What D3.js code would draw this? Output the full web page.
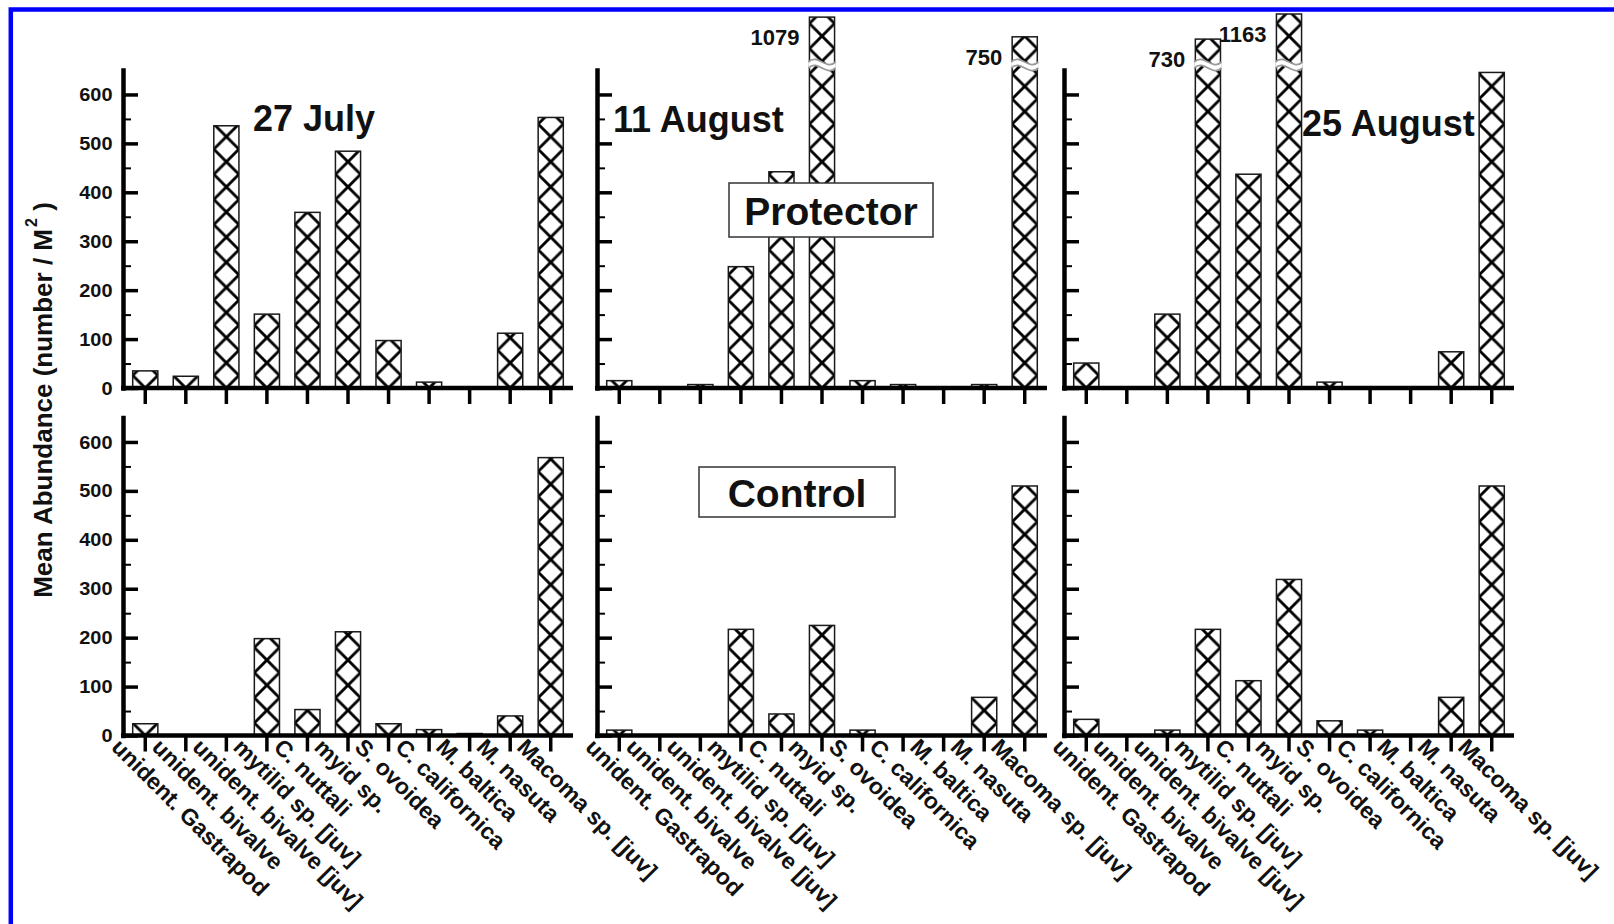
<!DOCTYPE html>
<html><head><meta charset="utf-8">
<script src="https://cdnjs.cloudflare.com/ajax/libs/d3/7.8.5/d3.min.js"></script>
<style>
html,body{margin:0;padding:0;background:#fff;overflow:hidden}
svg{display:block;font-family:"Liberation Sans",Arial,sans-serif}
</style></head><body>
<svg id="chart" width="1614" height="924"></svg>
<script>
// ---------- data ----------
const categories = ["unident. Gastrapod", "unident. bivalve", "unident. bivalve [juv]", "mytilid sp. [juv]",
  "C. nuttali", "myid sp.", "S. ovoidea", "C. californica", "M. baltica", "M. nasuta", "Macoma sp. [juv]"];
const dates = ["27 July", "11 August", "25 August"];
const treatments = ["Protector", "Control"];
const protector27Jul = [35, 24, 536, 151, 359, 484, 97, 12, 0, 112, 553];
const protector11Aug = [15, 0, 7, 248, 442, 1079, 15, 7, 0, 7, 750];
const protector25Aug = [51, 0, 151, 730, 437, 1163, 12, 0, 0, 74, 645];
const control27Jul = [24, 0, 0, 198, 53, 212, 24, 12, 4, 40, 568];
const control11Aug = [11, 0, 0, 217, 44, 225, 11, 0, 0, 78, 510];
const control25Aug = [33, 0, 11, 217, 112, 319, 30, 11, 0, 78, 510];
const yTickValues = [0, 100, 200, 300, 400, 500, 600];
const yMinorValues = [50, 150, 250, 350, 450, 550];
const yTitle = "Mean Abundance (number / M";

const series = [[protector27Jul, protector11Aug, protector25Aug], [control27Jul, control11Aug, control25Aug]];

// ---------- layout ----------
const W = 1614, H = 924;
const panelLeft = [123, 597, 1064], panelW = 450;
const rowBase = [388, 735.5], rowTopY = [70, 417.5];
const yMax = 650;
const FONT = '"Liberation Sans", Arial, sans-serif';

const svg = d3.select("#chart");
svg.append("rect").attr("width", W).attr("height", H).attr("fill", "#fff");
const defs = svg.append("defs");
const maxVal = d3.max(series.flat(2));

series.forEach((rowSeries, r) => {
  const y = d3.scaleLinear().domain([0, yMax]).range([rowBase[r], rowTopY[r]]);
  const yBreak = d3.scalePow().exponent(0.32).domain([0, maxVal - yMax]).range([rowTopY[r], rowTopY[r] - 56]);
  const barTop = v => v <= yMax ? y(v) : yBreak(v - yMax);

  rowSeries.forEach((vals, p) => {
    const px = panelLeft[p];
    const x = d3.scaleBand().domain(categories).range([px + 2, px + panelW - 2]).paddingInner(0.38).paddingOuter(0.19);
    const bw = x.bandwidth();
    const g = svg.append("g");

    // hatch patterns, one per bar, anchored to bar left / baseline
    categories.forEach((c, i) => {
      const pat = defs.append("pattern").attr("id", `h${r}${p}${i}`)
        .attr("patternUnits", "userSpaceOnUse")
        .attr("x", x(c)).attr("y", rowBase[r]).attr("width", bw).attr("height", bw);
      pat.append("path")
        .attr("d", `M${bw/2},0L0,${bw/2}L${bw/2},${bw}L${bw},${bw/2}Z`)
        .attr("fill", "none").attr("stroke", "#000").attr("stroke-width", 2.9);
    });

    // bars
    g.selectAll("rect.bar").data(vals.map((v, i) => ({v, i, c: categories[i]})).filter(d => d.v > 0))
      .join("rect").attr("class", "bar")
      .attr("x", d => x(d.c)).attr("width", bw)
      .attr("y", d => barTop(d.v)).attr("height", d => rowBase[r] - barTop(d.v))
      .attr("fill", d => `url(#h${r}${p}${d.i})`)
      .attr("stroke", "#1a1a1a").attr("stroke-width", 1.5);

    // break marks + value labels for bars beyond the axis
    const broken = vals.map((v, i) => ({v, i, c: categories[i]})).filter(d => d.v > yMax);
    broken.forEach(d => {
      const x0 = x(d.c), yb = rowTopY[r] - 5;
      const wave = off => `M${x0 - 1},${yb + off} C${x0 + bw/3},${yb + off - 9} ${x0 + 2*bw/3},${yb + off + 9} ${x0 + bw + 1},${yb + off}`;
      g.append("path")
        .attr("d", wave(-3) + ` L${x0 + bw + 1},${yb + 3} C${x0 + 2*bw/3},${yb + 12} ${x0 + bw/3},${yb - 6} ${x0 - 1},${yb + 3}Z`)
        .attr("fill", "#fff").attr("stroke", "none");
      [-3, 3].forEach(off => {
        g.append("path").attr("d", wave(off))
          .attr("fill", "none").attr("stroke", "#9a9a9a").attr("stroke-width", 1.8);
      });
      g.append("text").text(d.v)
        .attr("x", x0 - 10).attr("y", barTop(d.v) + 28)
        .attr("text-anchor", "end").attr("font-size", 22).attr("font-weight", "bold")
        .attr("font-family", FONT).attr("fill", "#111");
    });

    // y axis (major)
    const ya = g.append("g").attr("transform", `translate(${px},0)`)
      .call(d3.axisLeft(y).tickValues(yTickValues).tickSize(-15).tickSizeOuter(0).tickPadding(10)
        .tickFormat(p === 0 ? d3.format("d") : () => ""));
    ya.attr("font-size", null).attr("font-family", null);
    ya.select(".domain").attr("stroke", "#000").attr("stroke-width", 4.5).attr("stroke-linecap", "square");
    ya.selectAll(".tick line").attr("stroke", "#000").attr("stroke-width", 3.5);
    ya.selectAll(".tick text").attr("font-size", 19).attr("font-weight", "bold").attr("font-family", FONT)
      .attr("fill", "#111").attr("transform", "scale(1.05,1)");
    // minor ticks
    const ym = g.append("g").attr("transform", `translate(${px},0)`)
      .call(d3.axisLeft(y).tickValues(yMinorValues).tickSize(-8).tickSizeOuter(0).tickFormat(""));
    ym.select(".domain").remove();
    ym.selectAll(".tick line").attr("stroke", "#000").attr("stroke-width", 2);

    // x axis
    const xa = g.append("g").attr("transform", `translate(0,${rowBase[r]})`)
      .call(d3.axisBottom(x).tickSize(16).tickSizeOuter(0).tickFormat(""));
    xa.select(".domain").remove();
    xa.selectAll(".tick line").attr("stroke", "#000").attr("stroke-width", 3.5);
    g.append("line").attr("x1", px - 2).attr("x2", px + panelW).attr("y1", rowBase[r]).attr("y2", rowBase[r])
      .attr("stroke", "#000").attr("stroke-width", 4.5);

    // rotated category labels on bottom row
    if (r === 1) {
      g.selectAll("text.cat").data(categories).join("text").attr("class", "cat")
        .attr("transform", c => `translate(${x(c) + bw/2 - 35},${rowBase[r] + 13}) rotate(45)`)
        .attr("font-size", 23).attr("font-weight", "bold").attr("font-family", FONT).attr("fill", "#111")
        .text(c => c);
    }
  });
});

// date labels
const dateX = [253, 613, 1302], dateY = [131, 131.5, 136];
dates.forEach((d, i) => {
  svg.append("text").text(d).attr("x", dateX[i]).attr("y", dateY[i])
    .attr("font-size", 36).attr("font-weight", "bold").attr("font-family", FONT).attr("fill", "#111");
});

// treatment boxes
const boxes = [{x: 729, y: 183, w: 204, h: 54, ty: 225}, {x: 699, y: 467, w: 196, h: 50, ty: 507}];
treatments.forEach((t, i) => {
  const b = boxes[i];
  svg.append("rect").attr("x", b.x).attr("y", b.y).attr("width", b.w).attr("height", b.h)
    .attr("fill", "#fff").attr("stroke", "#333").attr("stroke-width", 1.5);
  svg.append("text").text(t).attr("x", b.x + b.w / 2).attr("y", b.ty).attr("text-anchor", "middle")
    .attr("font-size", 39).attr("font-weight", "bold").attr("font-family", FONT).attr("fill", "#111");
});

// y-axis title
const yt = svg.append("text").attr("transform", "translate(52,400) rotate(-90)")
  .attr("text-anchor", "middle").attr("font-size", 26).attr("font-weight", "bold")
  .attr("font-family", FONT).attr("fill", "#111");
yt.append("tspan").text(yTitle);
yt.append("tspan").text("2").attr("font-size", 16).attr("dy", -15).attr("dx", 2);
yt.append("tspan").text(" )").attr("dy", 15);

// blue frame
svg.append("rect").attr("x", 10.8).attr("y", 9.5).attr("width", 3000).attr("height", 3000)
  .attr("fill", "none").attr("stroke", "#0000ff").attr("stroke-width", 4.5);
</script>
</body></html>
